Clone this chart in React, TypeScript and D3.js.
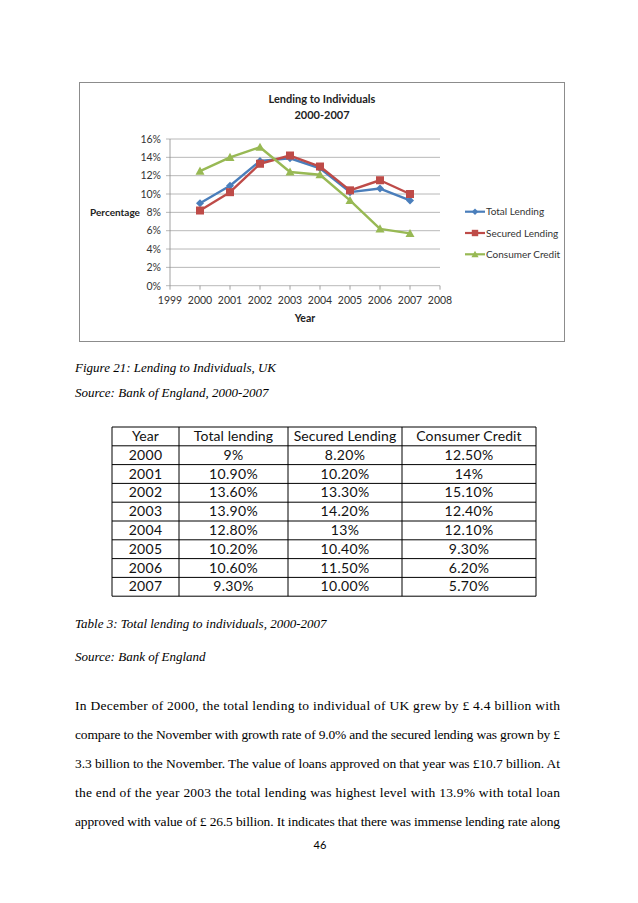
import React from "react";
import * as d3 from "d3";

const years = [2000, 2001, 2002, 2003, 2004, 2005, 2006, 2007];
const totalLending = [9.0, 10.9, 13.6, 13.9, 12.8, 10.2, 10.6, 9.3];
const securedLending = [8.2, 10.2, 13.3, 14.2, 13.0, 10.4, 11.5, 10.0];
const consumerCredit = [12.5, 14.0, 15.1, 12.4, 12.1, 9.3, 6.2, 5.7];
const yTicks = [0, 2, 4, 6, 8, 10, 12, 14, 16];
const xTicks = [1999, 2000, 2001, 2002, 2003, 2004, 2005, 2006, 2007, 2008];
const seriesNames = ["Total Lending", "Secured Lending", "Consumer Credit"];
const seriesColors = ["#4a7ebb", "#be4b48", "#98b954"];

const tableHeader = ["Year", "Total lending", "Secured Lending", "Consumer Credit"];
const tableTotal = ["9%", "10.90%", "13.60%", "13.90%", "12.80%", "10.20%", "10.60%", "9.30%"];
const tableSecured = ["8.20%", "10.20%", "13.30%", "14.20%", "13%", "10.40%", "11.50%", "10.00%"];
const tableConsumer = ["12.50%", "14%", "15.10%", "12.40%", "12.10%", "9.30%", "6.20%", "5.70%"];

const paragraph = [
  "In December of 2000, the total lending to individual of UK grew by \u00a3 4.4 billion with",
  "compare to the November with growth rate of 9.0% and the secured lending was grown by \u00a3",
  "3.3 billion to the November. The value of loans approved on that year was \u00a310.7 billion. At",
  "the end of the year 2003 the total lending was highest level with 13.9% with total loan",
  "approved with value of \u00a3 26.5 billion. It indicates that there was immense lending rate along",
];

const SANS = "Lato, 'Open Sans', sans-serif";
const SERIF = "'Liberation Serif', 'Times New Roman', serif";

function Marker({ kind, x, y, color }: { kind: number; x: number; y: number; color: string }) {
  if (kind === 0) {
    const s = 4;
    return <path d={`M${x},${y - s}L${x + s},${y}L${x},${y + s}L${x - s},${y}Z`} fill={color} />;
  }
  if (kind === 1) {
    return <rect x={x - 4} y={y - 4} width={8} height={8} fill={color} />;
  }
  const s = 4.5;
  return <path d={`M${x},${y - s}L${x + s},${y + s * 0.8}L${x - s},${y + s * 0.8}Z`} fill={color} />;
}

export default function App() {
  const W = 638, H = 903;
  const x = d3.scaleLinear().domain([1999, 2008]).range([170, 440]);
  const y = d3.scaleLinear().domain([0, 16]).range([285.7, 139]);
  const allSeries = [totalLending, securedLending, consumerCredit];
  const line = d3
    .line<number>()
    .x((_, i) => x(years[i]))
    .y((d) => y(d));

  const colX = [112, 179, 288, 402, 536];
  const rowTop = 427;
  const rowH = 18.8;
  const nRows = years.length + 1;
  const tableCols = [years.map(String), tableTotal, tableSecured, tableConsumer];

  const paraY0 = 710;
  const paraDy = 29;

  return (
    <svg
      width={W}
      height={H}
      style={{ position: "absolute", left: 0, top: 0, background: "#fff" }}
    >
      <rect x={0} y={0} width={W} height={H} fill="#fff" />
      {/* chart frame */}
      <rect x={79.5} y={82.5} width={485} height={259} fill="#fff" stroke="#8c8c8c" strokeWidth={1} />
      <text x={322} y={103} textAnchor="middle" fontFamily={SANS} fontWeight="bold" fontSize={11} fill="#222">
        Lending to Individuals
      </text>
      <text x={322} y={119} textAnchor="middle" fontFamily={SANS} fontWeight="bold" fontSize={11} fill="#222">
        2000-2007
      </text>
      {/* gridlines */}
      {yTicks.map((t) => (
        <g key={t}>
          <line x1={166} x2={440} y1={y(t)} y2={y(t)} stroke="#a6a6a6" strokeWidth={0.8} />
          <text x={161} y={y(t) + 3.8} textAnchor="end" fontFamily={SANS} fontSize={10.5} fill="#333">
            {t}%
          </text>
        </g>
      ))}
      <line x1={170} x2={170} y1={y(16)} y2={y(0)} stroke="#8c8c8c" strokeWidth={0.8} />
      {xTicks.map((t) => (
        <g key={t}>
          <line x1={x(t)} x2={x(t)} y1={y(0)} y2={y(0) + 4} stroke="#8c8c8c" strokeWidth={0.8} />
          <text x={x(t)} y={304} textAnchor="middle" fontFamily={SANS} fontSize={10.5} fill="#333">
            {t}
          </text>
        </g>
      ))}
      <text x={115} y={216} textAnchor="middle" fontFamily={SANS} fontWeight="bold" fontSize={10} fill="#222">
        Percentage
      </text>
      <text x={305} y={322} textAnchor="middle" fontFamily={SANS} fontWeight="bold" fontSize={10.5} fill="#222">
        Year
      </text>
      {/* series */}
      {allSeries.map((s, k) => (
        <g key={k}>
          <path d={line(s) || ""} fill="none" stroke={seriesColors[k]} strokeWidth={2.4} strokeLinejoin="round" />
          {s.map((v, i) => (
            <Marker key={i} kind={k} x={x(years[i])} y={y(v)} color={seriesColors[k]} />
          ))}
        </g>
      ))}
      {/* legend */}
      {seriesNames.map((n, k) => {
        const ly = 211.7 + k * 21.3;
        return (
          <g key={n}>
            <line x1={465} x2={485} y1={ly} y2={ly} stroke={seriesColors[k]} strokeWidth={2.2} />
            <g transform={`translate(475,${ly}) scale(0.8) translate(-475,${-ly})`}>
              <Marker kind={k} x={475} y={ly} color={seriesColors[k]} />
            </g>
            <text x={486} y={ly + 3.6} fontFamily={SANS} fontSize={10} fill="#333">
              {n}
            </text>
          </g>
        );
      })}

      {/* captions */}
      <text x={75} y={372} fontFamily={SERIF} fontStyle="italic" fontSize={13} fill="#000">
        Figure 21: Lending to Individuals, UK
      </text>
      <text x={75} y={397} fontFamily={SERIF} fontStyle="italic" fontSize={13} fill="#000">
        Source: Bank of England, 2000-2007
      </text>

      {/* table */}
      <g>
        {d3.range(nRows + 1).map((r) => (
          <line key={"r" + r} x1={colX[0]} x2={colX[4]} y1={rowTop + r * rowH} y2={rowTop + r * rowH} stroke="#000" strokeWidth={1} />
        ))}
        {colX.map((cx, c) => (
          <line key={"c" + c} x1={cx} x2={cx} y1={rowTop} y2={rowTop + nRows * rowH} stroke="#000" strokeWidth={1} />
        ))}
        {tableHeader.map((h, c) => (
          <text key={h} x={(colX[c] + colX[c + 1]) / 2} y={rowTop + 14} textAnchor="middle" fontFamily={SANS} fontSize={14} letterSpacing={0.1} fill="#111">
            {h}
          </text>
        ))}
        {tableCols.map((col, c) =>
          col.map((v, r) => (
            <text key={c + "-" + r} x={(colX[c] + colX[c + 1]) / 2} y={rowTop + (r + 1) * rowH + 14} textAnchor="middle" fontFamily={SANS} fontSize={14} letterSpacing={0.3} fill="#111">
              {v}
            </text>
          ))
        )}
      </g>

      <text x={75} y={628} fontFamily={SERIF} fontStyle="italic" fontSize={13} fill="#000">
        Table 3: Total lending to individuals, 2000-2007
      </text>
      <text x={75} y={661} fontFamily={SERIF} fontStyle="italic" fontSize={13} fill="#000">
        Source: Bank of England
      </text>

      {paragraph.map((p, i) => (
        <text
          key={i}
          x={75}
          y={paraY0 + i * paraDy}
          textLength={485}
          lengthAdjust="spacing"
          fontFamily={SERIF}
          fontSize={13.5}
          fill="#000"
        >
          {p}
        </text>
      ))}
      <text x={320} y={849} textAnchor="middle" fontFamily={SANS} fontSize={11} fill="#000">
        46
      </text>
    </svg>
  );
}
